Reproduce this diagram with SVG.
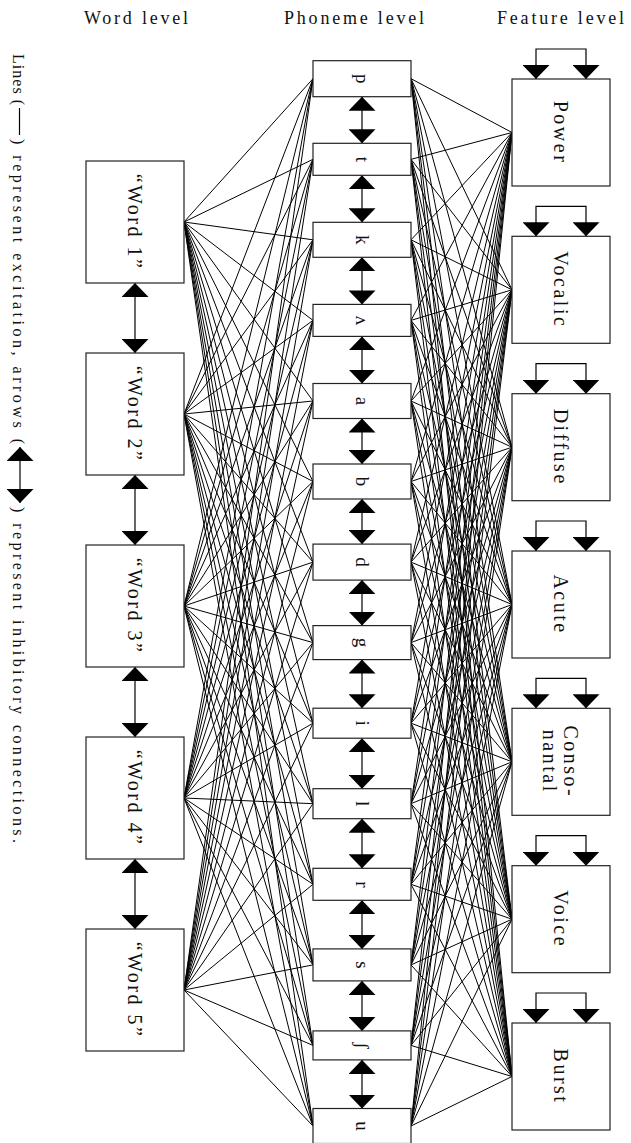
<svg xmlns="http://www.w3.org/2000/svg" width="631" height="1143" viewBox="0 0 631 1143">
<style>
.box{fill:#fff;stroke:#222;stroke-width:1.2}
.lbl{font-family:"Liberation Serif","DejaVu Serif",serif;font-size:20px;fill:#111;text-anchor:middle;dominant-baseline:central;letter-spacing:2.5px}
.ph{font-family:"Liberation Serif","DejaVu Serif",serif;font-size:19px;fill:#111;text-anchor:middle;dominant-baseline:central}
.hdr{font-family:"Liberation Serif","DejaVu Serif",serif;font-size:18px;fill:#111}
.cap{font-family:"Liberation Serif","DejaVu Serif",serif;font-size:16px;fill:#111}
.exc line{stroke:#000;stroke-width:1}
.inh{stroke:#000;stroke-width:1.2;fill:none;marker-start:url(#ah);marker-end:url(#ah)}
</style>
<defs>
<marker id="ah" markerUnits="userSpaceOnUse" markerWidth="14" markerHeight="27" viewBox="0 -13.5 14 27" refX="14" refY="0" orient="auto-start-reverse"><path d="M0,-13.5L14,0L0,13.5z" fill="#000"/></marker>
</defs>
<rect width="631" height="1143" fill="#fff"/>
<g id="headers">
<text class="hdr" x="84" y="24" textLength="104" lengthAdjust="spacing">Word level</text>
<text class="hdr" x="284" y="24" textLength="140" lengthAdjust="spacing">Phoneme level</text>
<text class="hdr" x="497" y="24" textLength="127" lengthAdjust="spacing">Feature level</text>
</g>
<g id="caption">
<text class="cap" transform="translate(13,54) rotate(90)" textLength="51" lengthAdjust="spacing">Lines (</text>
<line x1="19.5" y1="108" x2="19.5" y2="135" stroke="#000" stroke-width="1.2"/>
<text class="cap" transform="translate(13,139) rotate(90)" textLength="305" lengthAdjust="spacing">) represent excitation, arrows (</text>
<line class="inh" x1="20" y1="447" x2="20" y2="503"/>
<text class="cap" transform="translate(13,507) rotate(90)" textLength="336" lengthAdjust="spacing">) represent inhibitory connections.</text>
</g>
<g id="connectors">
<g class="exc">
<line x1="184" y1="222" x2="313" y2="78.7"/><line x1="184" y1="222" x2="313" y2="159.3"/><line x1="184" y1="222" x2="313" y2="239.8"/><line x1="184" y1="222" x2="313" y2="320.4"/><line x1="184" y1="222" x2="313" y2="401"/><line x1="184" y1="222" x2="313" y2="481.5"/><line x1="184" y1="222" x2="313" y2="562.1"/><line x1="184" y1="222" x2="313" y2="642.6"/><line x1="184" y1="222" x2="313" y2="723.2"/><line x1="184" y1="222" x2="313" y2="803.7"/><line x1="184" y1="222" x2="313" y2="884.3"/><line x1="184" y1="222" x2="313" y2="964.9"/><line x1="184" y1="222" x2="313" y2="1045.4"/><line x1="184" y1="222" x2="313" y2="1126"/>
<line x1="184" y1="414" x2="313" y2="78.7"/><line x1="184" y1="414" x2="313" y2="159.3"/><line x1="184" y1="414" x2="313" y2="239.8"/><line x1="184" y1="414" x2="313" y2="320.4"/><line x1="184" y1="414" x2="313" y2="401"/><line x1="184" y1="414" x2="313" y2="481.5"/><line x1="184" y1="414" x2="313" y2="562.1"/><line x1="184" y1="414" x2="313" y2="642.6"/><line x1="184" y1="414" x2="313" y2="723.2"/><line x1="184" y1="414" x2="313" y2="803.7"/><line x1="184" y1="414" x2="313" y2="884.3"/><line x1="184" y1="414" x2="313" y2="964.9"/><line x1="184" y1="414" x2="313" y2="1045.4"/><line x1="184" y1="414" x2="313" y2="1126"/>
<line x1="184" y1="606" x2="313" y2="78.7"/><line x1="184" y1="606" x2="313" y2="159.3"/><line x1="184" y1="606" x2="313" y2="239.8"/><line x1="184" y1="606" x2="313" y2="320.4"/><line x1="184" y1="606" x2="313" y2="401"/><line x1="184" y1="606" x2="313" y2="481.5"/><line x1="184" y1="606" x2="313" y2="562.1"/><line x1="184" y1="606" x2="313" y2="642.6"/><line x1="184" y1="606" x2="313" y2="723.2"/><line x1="184" y1="606" x2="313" y2="803.7"/><line x1="184" y1="606" x2="313" y2="884.3"/><line x1="184" y1="606" x2="313" y2="964.9"/><line x1="184" y1="606" x2="313" y2="1045.4"/><line x1="184" y1="606" x2="313" y2="1126"/>
<line x1="184" y1="798" x2="313" y2="78.7"/><line x1="184" y1="798" x2="313" y2="159.3"/><line x1="184" y1="798" x2="313" y2="239.8"/><line x1="184" y1="798" x2="313" y2="320.4"/><line x1="184" y1="798" x2="313" y2="401"/><line x1="184" y1="798" x2="313" y2="481.5"/><line x1="184" y1="798" x2="313" y2="562.1"/><line x1="184" y1="798" x2="313" y2="642.6"/><line x1="184" y1="798" x2="313" y2="723.2"/><line x1="184" y1="798" x2="313" y2="803.7"/><line x1="184" y1="798" x2="313" y2="884.3"/><line x1="184" y1="798" x2="313" y2="964.9"/><line x1="184" y1="798" x2="313" y2="1045.4"/><line x1="184" y1="798" x2="313" y2="1126"/>
<line x1="184" y1="990" x2="313" y2="78.7"/><line x1="184" y1="990" x2="313" y2="159.3"/><line x1="184" y1="990" x2="313" y2="239.8"/><line x1="184" y1="990" x2="313" y2="320.4"/><line x1="184" y1="990" x2="313" y2="401"/><line x1="184" y1="990" x2="313" y2="481.5"/><line x1="184" y1="990" x2="313" y2="562.1"/><line x1="184" y1="990" x2="313" y2="642.6"/><line x1="184" y1="990" x2="313" y2="723.2"/><line x1="184" y1="990" x2="313" y2="803.7"/><line x1="184" y1="990" x2="313" y2="884.3"/><line x1="184" y1="990" x2="313" y2="964.9"/><line x1="184" y1="990" x2="313" y2="1045.4"/><line x1="184" y1="990" x2="313" y2="1126"/>
<line x1="411" y1="78.7" x2="512" y2="132.5"/><line x1="411" y1="78.7" x2="512" y2="289.8"/><line x1="411" y1="78.7" x2="512" y2="447.2"/><line x1="411" y1="78.7" x2="512" y2="604.5"/><line x1="411" y1="78.7" x2="512" y2="761.8"/><line x1="411" y1="78.7" x2="512" y2="919.2"/><line x1="411" y1="78.7" x2="512" y2="1076.5"/>
<line x1="411" y1="159.3" x2="512" y2="132.5"/><line x1="411" y1="159.3" x2="512" y2="289.8"/><line x1="411" y1="159.3" x2="512" y2="447.2"/><line x1="411" y1="159.3" x2="512" y2="604.5"/><line x1="411" y1="159.3" x2="512" y2="761.8"/><line x1="411" y1="159.3" x2="512" y2="919.2"/><line x1="411" y1="159.3" x2="512" y2="1076.5"/>
<line x1="411" y1="239.8" x2="512" y2="132.5"/><line x1="411" y1="239.8" x2="512" y2="289.8"/><line x1="411" y1="239.8" x2="512" y2="447.2"/><line x1="411" y1="239.8" x2="512" y2="604.5"/><line x1="411" y1="239.8" x2="512" y2="761.8"/><line x1="411" y1="239.8" x2="512" y2="919.2"/><line x1="411" y1="239.8" x2="512" y2="1076.5"/>
<line x1="411" y1="320.4" x2="512" y2="132.5"/><line x1="411" y1="320.4" x2="512" y2="289.8"/><line x1="411" y1="320.4" x2="512" y2="447.2"/><line x1="411" y1="320.4" x2="512" y2="604.5"/><line x1="411" y1="320.4" x2="512" y2="761.8"/><line x1="411" y1="320.4" x2="512" y2="919.2"/><line x1="411" y1="320.4" x2="512" y2="1076.5"/>
<line x1="411" y1="401" x2="512" y2="132.5"/><line x1="411" y1="401" x2="512" y2="289.8"/><line x1="411" y1="401" x2="512" y2="447.2"/><line x1="411" y1="401" x2="512" y2="604.5"/><line x1="411" y1="401" x2="512" y2="761.8"/><line x1="411" y1="401" x2="512" y2="919.2"/><line x1="411" y1="401" x2="512" y2="1076.5"/>
<line x1="411" y1="481.5" x2="512" y2="132.5"/><line x1="411" y1="481.5" x2="512" y2="289.8"/><line x1="411" y1="481.5" x2="512" y2="447.2"/><line x1="411" y1="481.5" x2="512" y2="604.5"/><line x1="411" y1="481.5" x2="512" y2="761.8"/><line x1="411" y1="481.5" x2="512" y2="919.2"/><line x1="411" y1="481.5" x2="512" y2="1076.5"/>
<line x1="411" y1="562.1" x2="512" y2="132.5"/><line x1="411" y1="562.1" x2="512" y2="289.8"/><line x1="411" y1="562.1" x2="512" y2="447.2"/><line x1="411" y1="562.1" x2="512" y2="604.5"/><line x1="411" y1="562.1" x2="512" y2="761.8"/><line x1="411" y1="562.1" x2="512" y2="919.2"/><line x1="411" y1="562.1" x2="512" y2="1076.5"/>
<line x1="411" y1="642.6" x2="512" y2="132.5"/><line x1="411" y1="642.6" x2="512" y2="289.8"/><line x1="411" y1="642.6" x2="512" y2="447.2"/><line x1="411" y1="642.6" x2="512" y2="604.5"/><line x1="411" y1="642.6" x2="512" y2="761.8"/><line x1="411" y1="642.6" x2="512" y2="919.2"/><line x1="411" y1="642.6" x2="512" y2="1076.5"/>
<line x1="411" y1="723.2" x2="512" y2="132.5"/><line x1="411" y1="723.2" x2="512" y2="289.8"/><line x1="411" y1="723.2" x2="512" y2="447.2"/><line x1="411" y1="723.2" x2="512" y2="604.5"/><line x1="411" y1="723.2" x2="512" y2="761.8"/><line x1="411" y1="723.2" x2="512" y2="919.2"/><line x1="411" y1="723.2" x2="512" y2="1076.5"/>
<line x1="411" y1="803.7" x2="512" y2="132.5"/><line x1="411" y1="803.7" x2="512" y2="289.8"/><line x1="411" y1="803.7" x2="512" y2="447.2"/><line x1="411" y1="803.7" x2="512" y2="604.5"/><line x1="411" y1="803.7" x2="512" y2="761.8"/><line x1="411" y1="803.7" x2="512" y2="919.2"/><line x1="411" y1="803.7" x2="512" y2="1076.5"/>
<line x1="411" y1="884.3" x2="512" y2="132.5"/><line x1="411" y1="884.3" x2="512" y2="289.8"/><line x1="411" y1="884.3" x2="512" y2="447.2"/><line x1="411" y1="884.3" x2="512" y2="604.5"/><line x1="411" y1="884.3" x2="512" y2="761.8"/><line x1="411" y1="884.3" x2="512" y2="919.2"/><line x1="411" y1="884.3" x2="512" y2="1076.5"/>
<line x1="411" y1="964.9" x2="512" y2="132.5"/><line x1="411" y1="964.9" x2="512" y2="289.8"/><line x1="411" y1="964.9" x2="512" y2="447.2"/><line x1="411" y1="964.9" x2="512" y2="604.5"/><line x1="411" y1="964.9" x2="512" y2="761.8"/><line x1="411" y1="964.9" x2="512" y2="919.2"/><line x1="411" y1="964.9" x2="512" y2="1076.5"/>
<line x1="411" y1="1045.4" x2="512" y2="132.5"/><line x1="411" y1="1045.4" x2="512" y2="289.8"/><line x1="411" y1="1045.4" x2="512" y2="447.2"/><line x1="411" y1="1045.4" x2="512" y2="604.5"/><line x1="411" y1="1045.4" x2="512" y2="761.8"/><line x1="411" y1="1045.4" x2="512" y2="919.2"/><line x1="411" y1="1045.4" x2="512" y2="1076.5"/>
<line x1="411" y1="1126" x2="512" y2="132.5"/><line x1="411" y1="1126" x2="512" y2="289.8"/><line x1="411" y1="1126" x2="512" y2="447.2"/><line x1="411" y1="1126" x2="512" y2="604.5"/><line x1="411" y1="1126" x2="512" y2="761.8"/><line x1="411" y1="1126" x2="512" y2="919.2"/><line x1="411" y1="1126" x2="512" y2="1076.5"/>
</g>
<g id="inhibitory">
<line class="inh" x1="135" y1="283" x2="135" y2="353"/>
<line class="inh" x1="135" y1="475" x2="135" y2="545"/>
<line class="inh" x1="135" y1="667" x2="135" y2="737"/>
<line class="inh" x1="135" y1="859" x2="135" y2="929"/>
<line class="inh" x1="362" y1="96.7" x2="362" y2="143.3"/>
<line class="inh" x1="362" y1="175.3" x2="362" y2="222.3"/>
<line class="inh" x1="362" y1="257.3" x2="362" y2="304.4"/>
<line class="inh" x1="362" y1="336.4" x2="362" y2="383.5"/>
<line class="inh" x1="362" y1="418.5" x2="362" y2="464"/>
<line class="inh" x1="362" y1="499" x2="362" y2="544.1"/>
<line class="inh" x1="362" y1="580.1" x2="362" y2="625.6"/>
<line class="inh" x1="362" y1="659.6" x2="362" y2="708.2"/>
<line class="inh" x1="362" y1="738.2" x2="362" y2="788.7"/>
<line class="inh" x1="362" y1="818.7" x2="362" y2="868.3"/>
<line class="inh" x1="362" y1="900.3" x2="362" y2="948.9"/>
<line class="inh" x1="362" y1="980.9" x2="362" y2="1030.9"/>
<line class="inh" x1="362" y1="1059.9" x2="362" y2="1108.5"/>
<path class="inh" d="M536,79V49H586V79"/>
<path class="inh" d="M536,236.3V206.3H586V236.3"/>
<path class="inh" d="M536,393.7V363.7H586V393.7"/>
<path class="inh" d="M536,551V521H586V551"/>
<path class="inh" d="M536,708.3V678.3H586V708.3"/>
<path class="inh" d="M536,865.7V835.7H586V865.7"/>
<path class="inh" d="M536,1023V993H586V1023"/>
</g>
</g>
<g id="word1"><rect class="box" x="86" y="161" width="98" height="122"/><text class="lbl" transform="translate(135,222) rotate(90)">“Word 1”</text></g>
<g id="word2"><rect class="box" x="86" y="353" width="98" height="122"/><text class="lbl" transform="translate(135,414) rotate(90)">“Word 2”</text></g>
<g id="word3"><rect class="box" x="86" y="545" width="98" height="122"/><text class="lbl" transform="translate(135,606) rotate(90)">“Word 3”</text></g>
<g id="word4"><rect class="box" x="86" y="737" width="98" height="122"/><text class="lbl" transform="translate(135,798) rotate(90)">“Word 4”</text></g>
<g id="word5"><rect class="box" x="86" y="929" width="98" height="122"/><text class="lbl" transform="translate(135,990) rotate(90)">“Word 5”</text></g>
<g id="ph-p"><rect class="box" x="313" y="60.7" width="98" height="36"/><text class="ph" transform="translate(362,78.7) rotate(90)">p</text></g>
<g id="ph-t"><rect class="box" x="313" y="143.3" width="98" height="32"/><text class="ph" transform="translate(362,159.3) rotate(90)">t</text></g>
<g id="ph-k"><rect class="box" x="313" y="222.3" width="98" height="35"/><text class="ph" transform="translate(362,239.8) rotate(90)">k</text></g>
<g id="ph-wedge"><rect class="box" x="313" y="304.4" width="98" height="32"/><text class="ph" transform="translate(362,320.4) rotate(90)">ʌ</text></g>
<g id="ph-a"><rect class="box" x="313" y="383.5" width="98" height="35"/><text class="ph" transform="translate(362,401) rotate(90)">a</text></g>
<g id="ph-b"><rect class="box" x="313" y="464" width="98" height="35"/><text class="ph" transform="translate(362,481.5) rotate(90)">b</text></g>
<g id="ph-d"><rect class="box" x="313" y="544.1" width="98" height="36"/><text class="ph" transform="translate(362,562.1) rotate(90)">d</text></g>
<g id="ph-g"><rect class="box" x="313" y="625.6" width="98" height="34"/><text class="ph" transform="translate(362,642.6) rotate(90)">g</text></g>
<g id="ph-i"><rect class="box" x="313" y="708.2" width="98" height="30"/><text class="ph" transform="translate(362,723.2) rotate(90)">i</text></g>
<g id="ph-l"><rect class="box" x="313" y="788.7" width="98" height="30"/><text class="ph" transform="translate(362,803.7) rotate(90)">l</text></g>
<g id="ph-r"><rect class="box" x="313" y="868.3" width="98" height="32"/><text class="ph" transform="translate(362,884.3) rotate(90)">r</text></g>
<g id="ph-s"><rect class="box" x="313" y="948.9" width="98" height="32"/><text class="ph" transform="translate(362,964.9) rotate(90)">s</text></g>
<g id="ph-esh"><rect class="box" x="313" y="1030.9" width="98" height="29"/><text class="ph" transform="translate(362,1045.4) rotate(90)">ʃ</text></g>
<g id="ph-u"><rect class="box" x="313" y="1108.5" width="98" height="35"/><text class="ph" transform="translate(362,1126) rotate(90)">u</text></g>
<g id="f-power"><rect class="box" x="512" y="79" width="98" height="107"/><text class="lbl" transform="translate(561,132.5) rotate(90)">Power</text></g>
<g id="f-vocalic"><rect class="box" x="512" y="236.3" width="98" height="107"/><text class="lbl" transform="translate(561,289.8) rotate(90)">Vocalic</text></g>
<g id="f-diffuse"><rect class="box" x="512" y="393.7" width="98" height="107"/><text class="lbl" transform="translate(561,447.2) rotate(90)">Diffuse</text></g>
<g id="f-acute"><rect class="box" x="512" y="551" width="98" height="107"/><text class="lbl" transform="translate(561,604.5) rotate(90)">Acute</text></g>
<g id="f-consonantal"><rect class="box" x="512" y="708.3" width="98" height="107"/><text class="lbl" transform="translate(571,761.8) rotate(90)">Conso-</text><text class="lbl" transform="translate(550,761.8) rotate(90)">nantal</text></g>
<g id="f-voice"><rect class="box" x="512" y="865.7" width="98" height="107"/><text class="lbl" transform="translate(561,919.2) rotate(90)">Voice</text></g>
<g id="f-burst"><rect class="box" x="512" y="1023" width="98" height="107"/><text class="lbl" transform="translate(561,1076.5) rotate(90)">Burst</text></g>
</svg>
